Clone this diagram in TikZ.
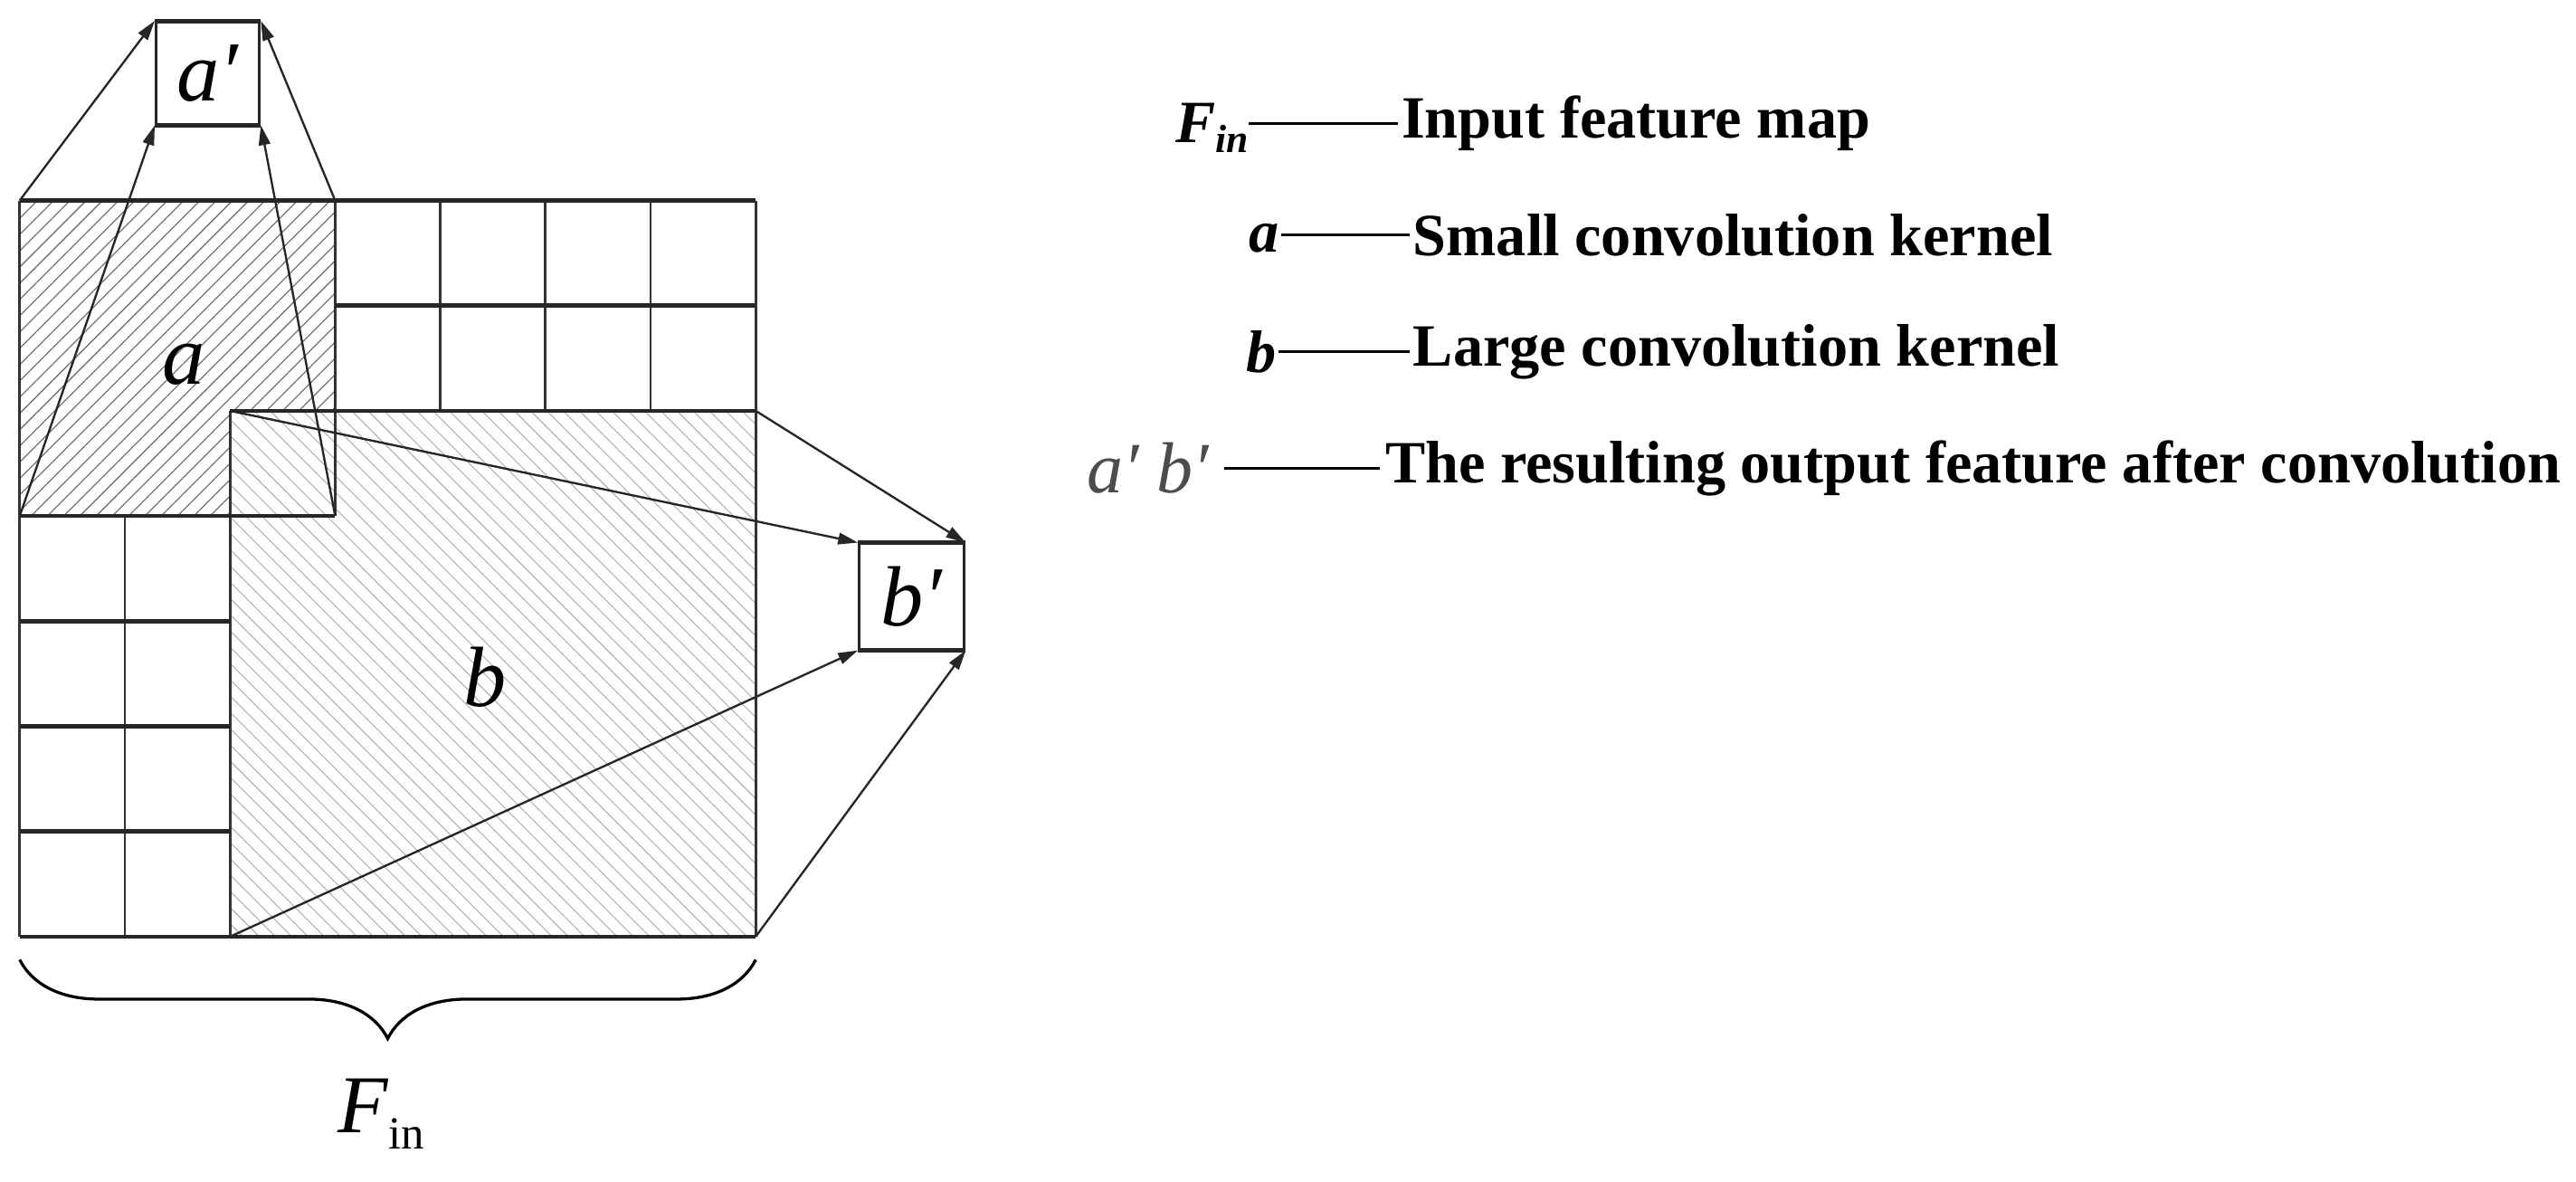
\documentclass[tikz,border=0pt]{standalone}
\usepackage{fontspec}
\setmainfont{Liberation Serif}
\usetikzlibrary{patterns.meta,decorations.pathreplacing,arrows.meta}
\begin{document}
\begin{tikzpicture}[x=1pt,y=-1pt,
  thick line/.style={line width=2.6pt,draw=black!85},
  thin line/.style={line width=1.5pt,draw=black!80},
  arr/.style={line width=1.3pt,draw=black!85,-{Triangle[length=12pt,width=7pt]}},
  lbl/.style={font=\fontsize{52}{58}\selectfont\itshape},
  leg/.style={font=\fontsize{36.5}{42}\selectfont\bfseries,anchor=west,inner sep=0pt},
  legline/.style={line width=1.5pt}]
\useasboundingbox (0,0) rectangle (1568,719);
% hatching
\fill[pattern={Lines[angle=45,distance=7pt,line width=0.7pt]},pattern color=black!55] (12,122) rectangle (204,314);
\fill[white] (140,250) rectangle (204,314);
\fill[pattern={Lines[angle=-45,distance=7pt,line width=0.6pt]},pattern color=black!30] (140,250) rectangle (460,570);
% grid coordinates
\coordinate (aTL) at (12,122); \coordinate (aTR) at (204,122);
\coordinate (aBL) at (12,314); \coordinate (aBR) at (204,314);
\coordinate (bTL) at (140,250); \coordinate (bTR) at (460,250);
\coordinate (bBL) at (140,570); \coordinate (bBR) at (460,570);
% vertical lines
\draw[thin line] (12,122) -- (12,570);
\draw[thin line] (76,314) -- (76,570);
\draw[thin line] (140,250) -- (140,570);
\draw[thin line] (204,122) -- (204,314);
\foreach \x in {268,332,396} \draw[thin line] (\x,122) -- (\x,250);
\draw[thin line] (460,122) -- (460,570);
% horizontal lines
\draw[thick line] (12,122) -- (460,122);
\draw[thick line] (204,186) -- (460,186);
\draw[thick line] (140,250) -- (460,250);
\draw[thick line] (12,314) -- (204,314);
\foreach \y in {378,442,506} \draw[thick line] (12,\y) -- (140,\y);
\draw[thick line] (12,570) -- (460,570);
% output boxes
\node[draw=black!85,line width=1.6pt,minimum width=63pt,minimum height=62pt,inner sep=0pt,lbl] (ap) at (126.5,44.5) {a′};
\node[draw=black!85,line width=1.6pt,minimum width=64pt,minimum height=64pt,inner sep=0pt,lbl] (bp) at (555,363) {b′};
\draw[thick line] (ap.north west) -- (ap.north east);
\draw[thick line] (ap.south west) -- (ap.south east);
\draw[thick line] (bp.north west) -- (bp.north east);
\draw[thick line] (bp.south west) -- (bp.south east);
% labels
\node[lbl] (la) at (112,222) {a};
\node[lbl] (lb) at (295,412) {b};
% arrows
\draw[arr] (aTL) -- (ap.north west);
\draw[arr] (aTR) -- (ap.north east);
\draw[arr] (aBL) -- (ap.south west);
\draw[arr] (aBR) -- (ap.south east);
\draw[arr] (bTL) -- (bp.north west);
\draw[arr] (bTR) -- (bp.north east);
\draw[arr] (bBL) -- (bp.south west);
\draw[arr] (bBR) -- (bp.south east);
% brace
\coordinate (brL) at (12,584); \coordinate (brR) at (460,584);
\draw[line width=1.8pt,decorate,decoration={brace,mirror,amplitude=48pt,aspect=0.5}] (brL) -- (brR);
\node[font=\fontsize{50}{56}\selectfont] (fin) at (232,678) {\textit{F}\raisebox{-10pt}{\fontsize{28}{32}\selectfont in}};
% legend
\node[leg] (l1) at (853,75) {Input feature map};
\node[leg,anchor=east] (k1) at (760,78) {\textit{F\raisebox{-6pt}{\fontsize{24}{28}\selectfont in}}};
\coordinate (d1a) at (760,75); \coordinate (d1b) at (851,75);
\draw[legline] (d1a) -- (d1b);
\node[leg] (l2) at (860,143) {Small convolution kernel};
\node[leg,anchor=east] (k2) at (779,145) {\textit{a}};
\coordinate (d2a) at (780,143); \coordinate (d2b) at (858,143);
\draw[legline] (d2a) -- (d2b);
\node[leg] (l3) at (860,214) {Large convolution kernel};
\node[leg,anchor=east] (k3) at (777,214) {\textit{b}};
\coordinate (d3a) at (778,214); \coordinate (d3b) at (858,214);
\draw[legline] (d3a) -- (d3b);
\node[leg] (l4) at (843,285) {The resulting output feature after convolution};
\node[anchor=east,inner sep=0pt,font=\fontsize{44}{50}\selectfont\itshape,text=black!70] (k4) at (736,285) {a′ b′};
\coordinate (d4a) at (745,285); \coordinate (d4b) at (840,285);
\draw[legline] (d4a) -- (d4b);
\end{tikzpicture}
\end{document}
